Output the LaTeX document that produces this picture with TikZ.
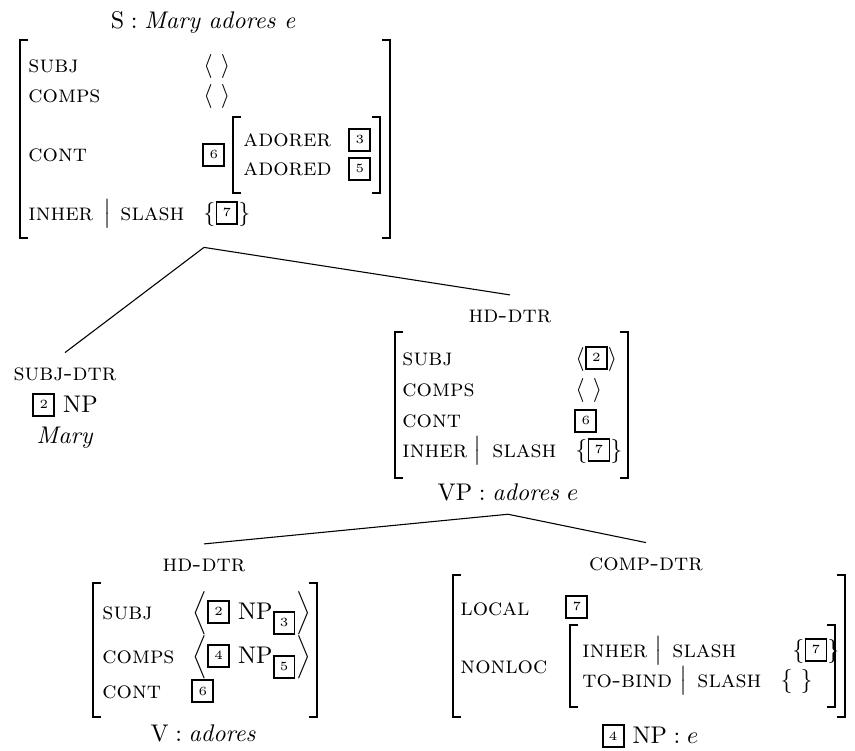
\documentclass[tikz,border=0pt]{standalone}
\usetikzlibrary{fit}
\newlength\uu
\setlength\uu{0.415pt}
\newcommand\tg[1]{\mbox{\setlength\fboxrule{0.8pt}\setlength\fboxsep{0pt}\fbox{\makebox[7.9pt]{\rule[-1.3pt]{0pt}{8.4pt}\raisebox{1.25pt}{\fontsize{5.2}{6}\selectfont #1}}}}}
\tikzset{
 lbl/.style={anchor=base west, font=\scshape},
 val/.style={anchor=base west},
 ctr/.style={anchor=base},
 dtr/.style={anchor=base, font=\scshape, outer sep=6.1pt},
 brk/.style={line width=0.6pt},
 treeedge/.style={line width=0.45pt},
}
\newcommand\AVMl[3]{\draw[brk] (#1+8,#2) -- (#1,#2) -- (#1,#3) -- (#1+8,#3);}
\newcommand\AVMr[3]{\draw[brk] (#1-8,#2) -- (#1,#2) -- (#1,#3) -- (#1-8,#3);}
\begin{document}
\begin{tikzpicture}[x=\uu,y=-\uu,every node/.style={inner sep=0pt}]
\useasboundingbox (0,0) rectangle (855,750);
% ---------- top AVM ----------
\node[ctr] (Slbl) at (203,29) {$\mathrm{S} : \textit{Mary adores e}$};
\AVMl{20}{40}{238} \AVMr{390}{40}{238}
\AVMl{233}{117}{193} \AVMr{380}{117}{193}
\coordinate (Stl) at (20,40); \coordinate (Sbr) at (388,238);
\node[fit=(Stl)(Sbr), inner xsep=0pt, inner ysep=3.7pt] (avmS) {};
\node[lbl] (s1) at (28,73) {subj};
\node[val] (s1v) at (203,73) {$\langle\ \rangle$};
\node[lbl] (s2) at (28,103) {comps};
\node[val] (s2v) at (203,103) {$\langle\ \rangle$};
\node[lbl] (s3) at (28,162) {cont};
\node[val] (s3v) at (202,162) {\tg{6}};
\node[lbl] (s4) at (243,147) {adorer};
\node[val] (s4v) at (348,147) {\tg{3}};
\node[lbl] (s5) at (243,176) {adored};
\node[val] (s5v) at (348,176) {\tg{5}};
\node[lbl] (s6) at (28,220) {inher};
\node[ctr] (s6b) at (108,220) {$\big|$};
\node[lbl] (s6c) at (120,220) {slash};
\node[val] (s6v) at (203,220) {$\{\tg{7}\}$};
% ---------- subject daughter ----------
\node[dtr] (sdtr) at (65,380) {subj-dtr};
\node[ctr] (snp) at (65,412) {\tg{2}\hspace{3.3pt}NP};
\node[ctr] (smary) at (65,443) {\textit{Mary}};
% ---------- head daughter (VP) ----------
\node[dtr] (hd1) at (510,322) {hd-dtr};
\AVMl{395}{332}{478} \AVMr{628}{332}{478}
\node[lbl] (m1) at (402,365) {subj};
\node[val] (m1v) at (575,365) {$\langle\tg{2}\rangle$};
\node[lbl] (m2) at (402,396) {comps};
\node[val] (m2v) at (575,396) {$\langle\ \rangle$};
\node[lbl] (m3) at (402,427) {cont};
\node[val] (m3v) at (574,428) {\tg{6}};
\node[lbl] (m4) at (402,457) {inher};
\node[ctr] (m4b) at (478,457) {$\big|$};
\node[lbl] (m4c) at (492,457) {slash};
\node[val] (m4v) at (575,457) {$\{\tg{7}\}$};
\node[ctr, outer sep=5.8pt] (vp) at (508,500) {$\mathrm{VP} : \textit{adores}\ e$};
% ---------- head daughter (V) ----------
\node[dtr] (hd2) at (204,571) {hd-dtr};
\AVMl{93}{583}{717} \AVMr{317}{583}{717}
\node[lbl] (b1) at (102,619) {subj};
\node[val] (b1v) at (192,619) {$\Bigl\langle\tg{2}\ \mathrm{NP}_{\tg{3}}\Bigr\rangle$};
\node[lbl] (b2) at (102,663) {comps};
\node[val] (b2v) at (192,663) {$\Bigl\langle\tg{4}\ \mathrm{NP}_{\tg{5}}\Bigr\rangle$};
\node[lbl] (b3) at (102,698) {cont};
\node[val] (b3v) at (191,698) {\tg{6}};
\node[ctr] (vlbl) at (203,741) {$\mathrm{V} : \textit{adores}$};
% ---------- complement daughter ----------
\node[dtr] (cdtr) at (646,570) {comp-dtr};
\AVMl{453}{575}{717} \AVMr{845}{575}{717}
\AVMl{570}{625}{707} \AVMr{835}{625}{707}
\node[lbl] (c1) at (460,615) {local};
\node[val] (c1v) at (565,614) {\tg{7}};
\node[lbl] (c2) at (460,673) {nonloc};
\node[lbl] (c3) at (582,657) {inher};
\node[ctr] (c3b) at (659,657) {$\big|$};
\node[lbl] (c3c) at (672,657) {slash};
\node[val] (c3v) at (792,657) {$\{\tg{7}\}$};
\node[lbl] (c4) at (582,687) {to-bind};
\node[ctr] (c4b) at (683,687) {$\big|$};
\node[lbl] (c4c) at (697,687) {slash};
\node[val] (c4v) at (780,687) {$\{\ \}$};
\node[ctr] (enp) at (650,743) {\tg{4}\hspace{3.3pt}$\mathrm{NP} : e$};
% ---------- tree edges ----------
\draw[treeedge] (avmS.south) -- (sdtr.north);
\draw[treeedge] (avmS.south) -- (hd1.north);
\draw[treeedge] (vp.south) -- (hd2.north);
\draw[treeedge] (vp.south) -- (cdtr.north);
\end{tikzpicture}
\end{document}
